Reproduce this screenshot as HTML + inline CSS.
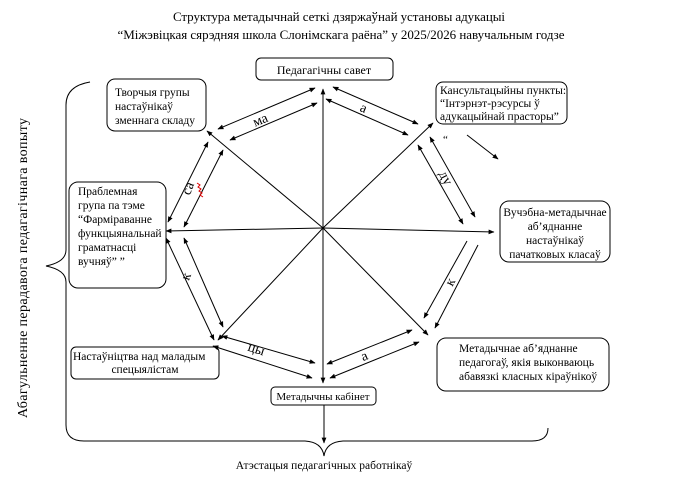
<!DOCTYPE html>
<html><head><meta charset="utf-8"><style>
html,body{margin:0;padding:0;background:#fff;}
svg, svg text{font-family:"Liberation Serif","DejaVu Serif",serif;}
text{fill:#000;}
</style></head><body>
<svg width="674" height="476" viewBox="0 0 674 476" xmlns="http://www.w3.org/2000/svg" font-family="Liberation Serif, serif">
<defs>
<marker id="a" viewBox="0 0 10 10" refX="9" refY="5" markerWidth="6" markerHeight="6" orient="auto-start-reverse">
<path d="M0,1 L10,5 L0,9 z" fill="#000"/></marker>
</defs>
<text x="339" y="21" font-size="13" text-anchor="middle" textLength="332">Структура метадычнай сеткі дзяржаўнай установы адукацыі</text>
<text x="341" y="39" font-size="13" text-anchor="middle" textLength="447">“Міжэвіцкая сярэдняя школа Слонімскага раёна” у 2025/2026 навучальным годзе</text>

<g fill="#fff" stroke="#000" stroke-width="1">
<rect x="256" y="58" width="137" height="22" rx="5"/>
<rect x="107" y="79" width="99" height="52" rx="8"/>
<rect x="436" y="82" width="131" height="42" rx="7"/>
<rect x="69" y="182" width="97" height="106" rx="9"/>
<rect x="500" y="201" width="110" height="61" rx="9"/>
<rect x="71" y="347" width="148" height="32" rx="5"/>
<rect x="437" y="338" width="172" height="53" rx="9"/>
<rect x="271" y="387" width="105" height="18" rx="4"/>
</g>

<g font-size="11.5">
<text x="324" y="74" text-anchor="middle" font-size="12">Педагагічны савет</text>
<text x="115" y="96">Творчыя групы</text>
<text x="115" y="110">настаўнікаў</text>
<text x="115" y="124">зменнага складу</text>
<text x="440" y="94">Кансультацыйны пункты:</text>
<text x="440" y="107">“Інтэрнэт-рэсурсы ў</text>
<text x="440" y="120">адукацыйнай прасторы”</text>
<text x="78" y="195">Праблемная</text>
<text x="78" y="209">група па тэме</text>
<text x="78" y="223">“Фарміраванне</text>
<text x="78" y="237">функцыянальнай</text>
<text x="78" y="251">граматнасці</text>
<text x="78" y="265">вучняў” ”</text>
<text x="555" y="216" text-anchor="middle">Вучэбна-метадычнае</text>
<text x="555" y="230" text-anchor="middle">аб’яднанне</text>
<text x="555" y="244" text-anchor="middle">настаўнікаў</text>
<text x="555" y="258" text-anchor="middle">пачатковых класаў</text>
<text x="73" y="360">Настаўніцтва над маладым</text>
<text x="145" y="373" text-anchor="middle">спецыялістам</text>
<text x="459" y="352">Метадычнае аб’яднанне</text>
<text x="459" y="366">педагогаў, якія выконваюць</text>
<text x="459" y="380">абавязкі класных кіраўнікоў</text>
<text x="323" y="400" text-anchor="middle" font-size="11">Метадычны кабінет</text>
<text x="324" y="469" text-anchor="middle" font-size="11.5">Атэстацыя педагагічных работнікаў</text>
<text x="443" y="143" font-size="11">“</text>
</g>

<text transform="translate(27,268) rotate(-90)" font-size="14" text-anchor="middle" textLength="300">Абагульненне перадавога педагагічнага вопыту</text>

<g stroke="#000" stroke-width="1" fill="none">
<line x1="323" y1="228" x2="323" y2="89" marker-end="url(#a)"/>
<line x1="323" y1="228" x2="207" y2="131" marker-end="url(#a)"/>
<line x1="323" y1="228" x2="433" y2="123" marker-end="url(#a)"/>
<line x1="323" y1="228" x2="166" y2="231" marker-end="url(#a)"/>
<line x1="323" y1="228" x2="494" y2="232" marker-end="url(#a)"/>
<line x1="323" y1="228" x2="218" y2="340" marker-end="url(#a)"/>
<line x1="323" y1="228" x2="428" y2="335" marker-end="url(#a)"/>
<line x1="323" y1="228" x2="323" y2="383" marker-end="url(#a)"/>
<line x1="324" y1="405" x2="324" y2="443" marker-end="url(#a)"/>
<line x1="218" y1="129" x2="315" y2="88" marker-start="url(#a)" marker-end="url(#a)"/>
<line x1="230" y1="140" x2="317" y2="103" marker-start="url(#a)" marker-end="url(#a)"/>
<line x1="333" y1="87" x2="418" y2="124" marker-start="url(#a)" marker-end="url(#a)"/>
<line x1="326" y1="99" x2="408" y2="135" marker-start="url(#a)" marker-end="url(#a)"/>
<line x1="208" y1="142" x2="168" y2="222" marker-start="url(#a)" marker-end="url(#a)"/>
<line x1="223" y1="150" x2="184" y2="227" marker-start="url(#a)" marker-end="url(#a)"/>
<line x1="430" y1="137" x2="475" y2="217" marker-start="url(#a)" marker-end="url(#a)"/>
<line x1="418" y1="145" x2="463" y2="224" marker-start="url(#a)" marker-end="url(#a)"/>
<line x1="166" y1="238" x2="214" y2="340" marker-start="url(#a)" marker-end="url(#a)"/>
<line x1="184" y1="238" x2="223" y2="327" marker-start="url(#a)" marker-end="url(#a)"/>
<line x1="467" y1="241" x2="424" y2="318" marker-end="url(#a)"/>
<line x1="478" y1="245" x2="435" y2="328" marker-end="url(#a)"/>
<line x1="222" y1="336" x2="315" y2="363" marker-start="url(#a)" marker-end="url(#a)"/>
<line x1="213" y1="346" x2="312" y2="378" marker-start="url(#a)" marker-end="url(#a)"/>
<line x1="412" y1="330" x2="327" y2="364" marker-start="url(#a)" marker-end="url(#a)"/>
<line x1="419" y1="342" x2="330" y2="378" marker-start="url(#a)" marker-end="url(#a)"/>
<line x1="467" y1="135" x2="498" y2="159" marker-end="url(#a)"/>
<path d="M90,82 Q66,86 66,105 L66,250 Q66,262 46,266 Q66,270 66,282 L66,425"/>
<path d="M66,425 Q66,441 84,441 L305,441 Q322,442 324,456 Q326,442 343,441 L532,441 Q548,441 548,428"/>
</g>

<g font-size="14">
<text transform="translate(262,124) rotate(-23)" text-anchor="middle">ма</text>
<text transform="translate(362,112) rotate(23)" text-anchor="middle">а</text>
<text transform="translate(192,190) rotate(-68)" text-anchor="middle">са</text>
<path d="M197,183 l3,2 l-2,2 l3,2 l-2,2 l3,2 l-2,2 l3,2" stroke="#d00" stroke-width="1" fill="none"/>
<text transform="translate(442,180) rotate(62)" text-anchor="middle">ду</text>
<text transform="translate(190,278) rotate(-68)" text-anchor="middle">к</text>
<text transform="translate(454,284) rotate(-62)" text-anchor="middle">к</text>
<text transform="translate(255,353) rotate(18)" text-anchor="middle">цы</text>
<text transform="translate(366,360) rotate(-23)" text-anchor="middle">а</text>
</g>
</svg>
</body></html>
